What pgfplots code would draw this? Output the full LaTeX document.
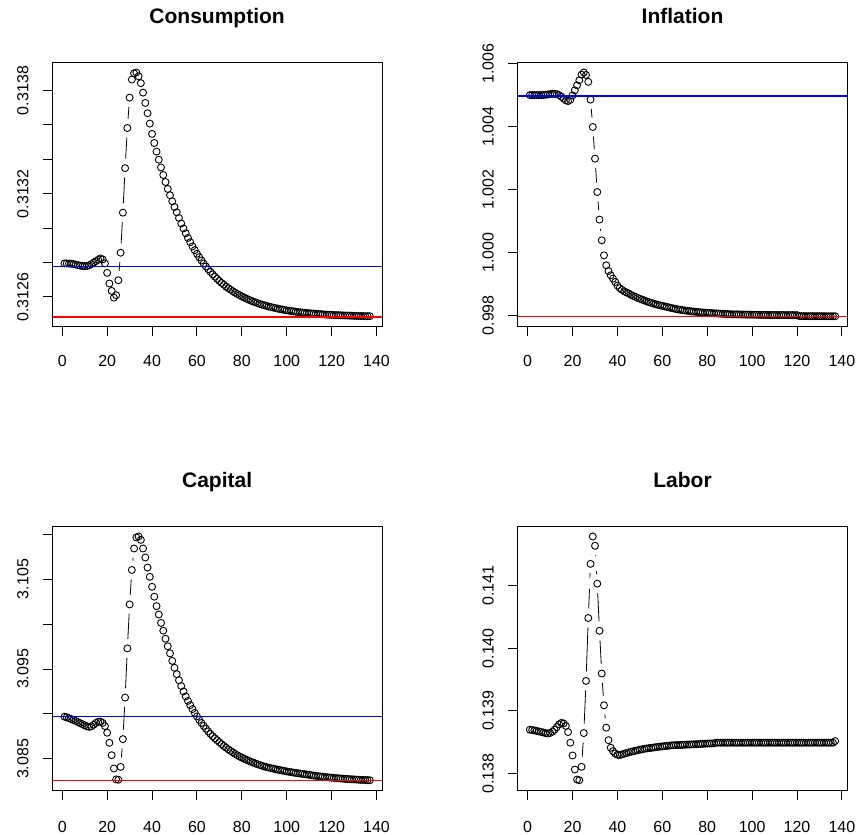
\documentclass[border=0pt]{standalone}
\usepackage{pgfplots}
\pgfplotsset{compat=1.18}
\usepackage{pgfplotstable}
\usepackage{fontspec}
\setmainfont{Liberation Sans}

\pgfplotstableread{
x y
1 0.312795
2 0.312795
3 0.312794
4 0.312793
5 0.312791
6 0.312788
7 0.312785
8 0.312782
9 0.312780
10 0.312779
11 0.312780
12 0.312784
13 0.312791
14 0.312800
15 0.312808
16 0.312816
17 0.312824
18 0.312818
19 0.312795
20 0.312740
21 0.312678
22 0.312635
23 0.312596
24 0.312610
25 0.312697
26 0.312857
27 0.313090
28 0.313349
29 0.313582
30 0.313759
31 0.313864
32 0.313900
33 0.313905
34 0.313883
35 0.313843
36 0.313788
37 0.313728
38 0.313668
39 0.313608
40 0.313548
41 0.313495
42 0.313445
43 0.313398
44 0.313353
45 0.313309
46 0.313268
47 0.313228
48 0.313191
49 0.313156
50 0.313123
51 0.313092
52 0.313059
53 0.313027
54 0.312998
55 0.312970
56 0.312943
57 0.312918
58 0.312894
59 0.312872
60 0.312851
61 0.312831
62 0.312812
63 0.312794
64 0.312777
65 0.312761
66 0.312746
67 0.312731
68 0.312718
69 0.312705
70 0.312693
71 0.312681
72 0.312671
73 0.312660
74 0.312651
75 0.312642
76 0.312633
77 0.312625
78 0.312617
79 0.312610
80 0.312603
81 0.312596
82 0.312590
83 0.312584
84 0.312579
85 0.312573
86 0.312569
87 0.312564
88 0.312559
89 0.312555
90 0.312551
91 0.312548
92 0.312544
93 0.312541
94 0.312538
95 0.312535
96 0.312532
97 0.312529
98 0.312527
99 0.312524
100 0.312522
101 0.312520
102 0.312518
103 0.312516
104 0.312514
105 0.312512
106 0.312511
107 0.312509
108 0.312508
109 0.312507
110 0.312505
111 0.312504
112 0.312503
113 0.312502
114 0.312501
115 0.312500
116 0.312499
117 0.312498
118 0.312497
119 0.312496
120 0.312496
121 0.312495
122 0.312494
123 0.312494
124 0.312493
125 0.312493
126 0.312492
127 0.312492
128 0.312491
129 0.312491
130 0.312490
131 0.312490
132 0.312489
133 0.312489
134 0.312489
135 0.312488
136 0.312488
137 0.312488
}\consdata

\pgfplotstableread{
x y
1 1.005000
2 1.005000
3 1.005000
4 1.005000
5 1.005000
6 1.005000
7 1.005005
8 1.005010
9 1.005020
10 1.005030
11 1.005040
12 1.005040
13 1.005030
14 1.005000
15 1.004950
16 1.004890
17 1.004830
18 1.004810
19 1.004850
20 1.004990
21 1.005150
22 1.005310
23 1.005470
24 1.005650
25 1.005720
26 1.005640
27 1.005420
28 1.004856
29 1.003985
30 1.002981
31 1.001919
32 1.001042
33 1.000384
34 0.999907
35 0.999589
36 0.999408
37 0.999271
38 0.999165
39 0.999059
40 0.998945
41 0.998863
42 0.998809
43 0.998763
44 0.998726
45 0.998695
46 0.998651
47 0.998617
48 0.998585
49 0.998553
50 0.998525
51 0.998497
52 0.998470
53 0.998443
54 0.998418
55 0.998395
56 0.998373
57 0.998352
58 0.998333
59 0.998316
60 0.998299
61 0.998283
62 0.998267
63 0.998250
64 0.998233
65 0.998217
66 0.998201
67 0.998186
68 0.998175
69 0.998164
70 0.998154
71 0.998144
72 0.998134
73 0.998125
74 0.998118
75 0.998111
76 0.998104
77 0.998097
78 0.998091
79 0.998085
80 0.998079
81 0.998074
82 0.998069
83 0.998064
84 0.998060
85 0.998055
86 0.998051
87 0.998047
88 0.998043
89 0.998039
90 0.998036
91 0.998032
92 0.998030
93 0.998029
94 0.998027
95 0.998026
96 0.998024
97 0.998023
98 0.998021
99 0.998020
100 0.998019
101 0.998017
102 0.998016
103 0.998015
104 0.998013
105 0.998012
106 0.998011
107 0.998011
108 0.998010
109 0.998010
110 0.998009
111 0.998009
112 0.998008
113 0.998008
114 0.998007
115 0.998007
116 0.998006
117 0.998006
118 0.998006
119 0.998005
120 0.998005
121 0.997975
122 0.997974
123 0.997974
124 0.997973
125 0.997973
126 0.997973
127 0.997972
128 0.997972
129 0.997972
130 0.997971
131 0.997971
132 0.997971
133 0.997970
134 0.997970
135 0.997970
136 0.997970
137 0.997970
}\infldata

\pgfplotstableread{
x y
1 3.08969
2 3.08963
3 3.08952
4 3.08942
5 3.08932
6 3.08921
7 3.08908
8 3.08897
9 3.08886
10 3.08873
11 3.08862
12 3.08856
13 3.08862
14 3.08880
15 3.08900
16 3.08912
17 3.08914
18 3.08900
19 3.08865
20 3.08791
21 3.08679
22 3.08541
23 3.08393
24 3.08272
25 3.08268
26 3.08411
27 3.08720
28 3.09182
29 3.09729
30 3.10218
31 3.10601
32 3.10840
33 3.10963
34 3.10974
35 3.10936
36 3.10840
37 3.10740
38 3.10628
39 3.10525
40 3.10414
41 3.10304
42 3.10199
43 3.10106
44 3.10013
45 3.09926
46 3.09836
47 3.09753
48 3.09674
49 3.09590
50 3.09513
51 3.09443
52 3.09375
53 3.09310
54 3.09250
55 3.09195
56 3.09145
57 3.09098
58 3.09054
59 3.09012
60 3.08972
61 3.08935
62 3.08900
63 3.08867
64 3.08836
65 3.08806
66 3.08778
67 3.08752
68 3.08728
69 3.087072
70 3.086849
71 3.086636
72 3.086434
73 3.086242
74 3.086058
75 3.085884
76 3.085717
77 3.085559
78 3.085408
79 3.085265
80 3.085140
81 3.085020
82 3.084906
83 3.084797
84 3.084692
85 3.084592
86 3.084496
87 3.084405
88 3.084318
89 3.084234
90 3.084154
91 3.084090
92 3.084028
93 3.083969
94 3.083911
95 3.083856
96 3.083803
97 3.083752
98 3.083703
99 3.083655
100 3.083609
101 3.083565
102 3.083523
103 3.083482
104 3.083442
105 3.083404
106 3.083367
107 3.083332
108 3.083298
109 3.083265
110 3.083224
111 3.083186
112 3.083149
113 3.083114
114 3.083080
115 3.083048
116 3.083018
117 3.082989
118 3.082961
119 3.082935
120 3.082910
121 3.082886
122 3.082863
123 3.082841
124 3.082821
125 3.082801
126 3.082782
127 3.082764
128 3.082747
129 3.082731
130 3.082715
131 3.082700
132 3.082686
133 3.082673
134 3.082660
135 3.082648
136 3.082636
137 3.082625
}\capdata

\pgfplotstableread{
x y
1 0.138700
2 0.138695
3 0.138688
4 0.138680
5 0.138672
6 0.138664
7 0.138655
8 0.138645
9 0.138640
10 0.138648
11 0.138668
12 0.138700
13 0.138742
14 0.138785
15 0.138808
16 0.138800
17 0.138760
18 0.138662
19 0.138492
20 0.138288
21 0.138064
22 0.137904
23 0.137893
24 0.138107
25 0.138646
26 0.139478
27 0.140483
28 0.141348
29 0.141785
30 0.141636
31 0.141032
32 0.140279
33 0.139597
34 0.139089
35 0.138732
36 0.138533
37 0.138412
38 0.138357
39 0.138320
40 0.138300
41 0.138295
42 0.138305
43 0.138316
44 0.138327
45 0.138338
46 0.138347
47 0.138356
48 0.138364
49 0.138372
50 0.138380
51 0.138388
52 0.138395
53 0.138400
54 0.138405
55 0.138410
56 0.138415
57 0.138420
58 0.138425
59 0.138429
60 0.138433
61 0.138437
62 0.138441
63 0.138445
64 0.138449
65 0.138451
66 0.138453
67 0.138455
68 0.138456
69 0.138458
70 0.138460
71 0.138462
72 0.138463
73 0.138465
74 0.138467
75 0.138468
76 0.138470
77 0.138472
78 0.138474
79 0.138476
80 0.138478
81 0.138480
82 0.138481
83 0.138483
84 0.138492
85 0.138492
86 0.138492
87 0.138492
88 0.138492
89 0.138492
90 0.138492
91 0.138492
92 0.138492
93 0.138492
94 0.138492
95 0.138492
96 0.138492
97 0.138492
98 0.138492
99 0.138492
100 0.138492
101 0.138492
102 0.138492
103 0.138492
104 0.138492
105 0.138492
106 0.138492
107 0.138492
108 0.138492
109 0.138492
110 0.138492
111 0.138492
112 0.138492
113 0.138492
114 0.138492
115 0.138492
116 0.138492
117 0.138492
118 0.138492
119 0.138492
120 0.138492
121 0.138492
122 0.138492
123 0.138492
124 0.138492
125 0.138492
126 0.138492
127 0.138492
128 0.138492
129 0.138492
130 0.138492
131 0.138492
132 0.138492
133 0.138492
134 0.138492
135 0.138492
136 0.138492
137 0.138518
}\labdata

\definecolor{rblue}{RGB}{0,0,255}
\definecolor{rred}{RGB}{255,0,0}

\pgfplotsset{
  rpanel/.style={
    scale only axis, width=329.7pt, height=263.3pt,
    xmin=-4.44, xmax=142.44,
    xtick={0,20,40,60,80,100,120,140},
    xticklabels={0,20,40,60,80,100,120,140},
    scaled x ticks=false, scaled y ticks=false,
    tick pos=left, tick align=outside,
    major tick length=9.6pt,
    every tick/.style={black, line width=0.9pt},
    axis line style={black, line width=0.9pt},
    tick label style={font=\fontsize{16}{19}\selectfont, inner sep=0pt},
    xticklabel style={anchor=north},
    yticklabel style={rotate=90, anchor=base},
    yticklabel shift=14.4pt,
    title style={font=\fontsize{21}{25}\selectfont\bfseries, at={(0.5,1)}, anchor=base, yshift=33pt, inner sep=0pt},
    clip marker paths=true,
  },
  dline/.style={draw=black, line width=0.8pt, mark=none},
  halo/.style={only marks, mark=*, mark size=9.3pt, mark options={draw=white, fill=white, line width=0.2pt}},
  ring/.style={only marks, mark=o, mark size=3.5pt, mark options={draw=black, line width=0.9pt}},
  bline/.style={color=rblue, line width=1.5pt, mark=none},
  rline/.style={color=rred, line width=1.5pt, mark=none},
}

\begin{document}
\begin{tikzpicture}
\useasboundingbox (0,0) rectangle (858pt,834pt);

% Consumption
\begin{axis}[rpanel, at={(52.3pt,508pt)}, anchor=south west,
  title={Consumption}, xticklabel shift=19.4pt,
  ymin=0.312431, ymax=0.313962,
  ytick={0.3126,0.3128,0.3130,0.3132,0.3134,0.3136,0.3138},
  yticklabels={0.3126,,,0.3132,,,0.3138}]
\addplot[dline] table[x=x,y=y] {\consdata};
\addplot[halo] table[x=x,y=y] {\consdata};
\addplot[ring] table[x=x,y=y] {\consdata};
\addplot[bline] coordinates {(-4.44,0.312777) (142.44,0.312777)};
\addplot[rline] coordinates {(-4.44,0.3124833) (142.44,0.3124833)};
\end{axis}

% Inflation
\begin{axis}[rpanel, at={(517.7pt,508pt)}, anchor=south west,
  title={Inflation}, xticklabel shift=19.4pt,
  ymin=0.99766, ymax=1.00603,
  ytick={0.998,1.000,1.002,1.004,1.006},
  yticklabels={0.998,1.000,1.002,1.004,1.006}]
\addplot[dline] table[x=x,y=y] {\infldata};
\addplot[halo] table[x=x,y=y] {\infldata};
\addplot[ring] table[x=x,y=y] {\infldata};
\addplot[bline] coordinates {(-4.44,1.0049714) (142.44,1.0049714)};
\addplot[rline] coordinates {(-4.44,0.997962) (142.44,0.997962)};
\end{axis}

% Capital
\begin{axis}[rpanel, at={(52.3pt,44pt)}, anchor=south west,
  title={Capital}, xticklabel shift=21.3pt,
  ymin=3.08154, ymax=3.110825,
  ytick={3.085,3.090,3.095,3.100,3.105,3.110},
  yticklabels={3.085,,3.095,,3.105,}]
\addplot[dline] table[x=x,y=y] {\capdata};
\addplot[halo] table[x=x,y=y] {\capdata};
\addplot[ring] table[x=x,y=y] {\capdata};
\addplot[bline] coordinates {(-4.44,3.0897145) (142.44,3.0897145)};
\addplot[rline] coordinates {(-4.44,3.082597) (142.44,3.082597)};
\end{axis}

% Labor
\begin{axis}[rpanel, at={(517.7pt,44pt)}, anchor=south west,
  title={Labor}, xticklabel shift=21.3pt,
  ymin=0.137737, ymax=0.141941,
  ytick={0.138,0.139,0.140,0.141},
  yticklabels={0.138,0.139,0.140,0.141}]
\addplot[dline] table[x=x,y=y] {\labdata};
\addplot[halo] table[x=x,y=y] {\labdata};
\addplot[ring] table[x=x,y=y] {\labdata};
\end{axis}
\end{tikzpicture}
\end{document}
